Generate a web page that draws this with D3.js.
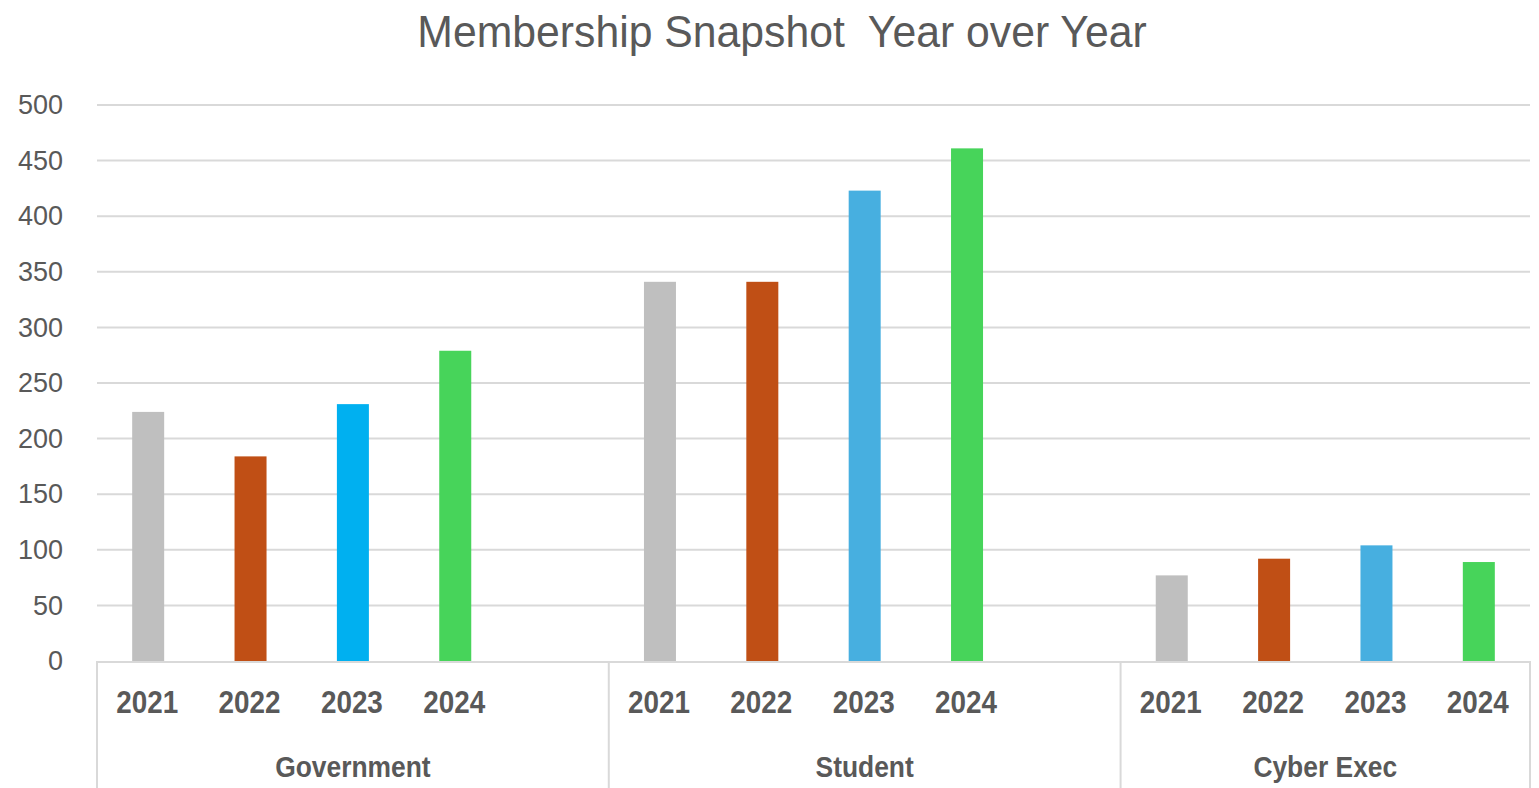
<!DOCTYPE html>
<html>
<head>
<meta charset="utf-8">
<script src="https://cdn.jsdelivr.net/npm/d3@7"></script>
<style>
  html, body { margin: 0; padding: 0; background: #fff; }
  svg { display: block; }
  text { white-space: pre; }
</style>
</head>
<body>
<svg id="chart" width="1539" height="788"></svg>
<script>
// ---- data ----
const title = "Membership Snapshot  Year over Year";
const groups = ["Government", "Student", "Cyber Exec"];
const years = ["2021", "2022", "2023", "2024"];
const government = [224, 184, 231, 279];
const student = [341, 341, 423, 461];
const cyberExec = [77, 92, 104, 89];
const yTicks = [0, 50, 100, 150, 200, 250, 300, 350, 400, 450, 500];
// empty trailing slots per group (as in the source sheet layout)
const trailingGaps = [1, 1, 0];

// ---- styles ----
const yearColors = { "2021": "#BFBFBF", "2022": "#C04F15", "2023": "#47AFE0", "2024": "#47D45A" };
const colorOverrides = { "Government|2023": "#00B0F0" };
const textColor = "#595959";
const gridColor = "#D9D9D9";
const FONT = "'Liberation Sans', Arial, sans-serif";

const seriesByGroup = { "Government": government, "Student": student, "Cyber Exec": cyberExec };

// build slots
const slots = [];
const records = [];
groups.forEach((g, gi) => {
  years.forEach((y, yi) => {
    const key = g + "|" + y;
    slots.push(key);
    records.push({ group: g, year: y, key, value: seriesByGroup[g][yi] });
  });
  for (let i = 0; i < trailingGaps[gi]; i++) slots.push(g + "|gap" + i);
});

const svg = d3.select("#chart");
const margin = { left: 97, right: 1530, top: 105, bottom: 661 };

const x = d3.scaleBand().domain(slots).range([margin.left, margin.right]).paddingInner(0).paddingOuter(0);
const y = d3.scaleLinear().domain([0, 500]).range([margin.bottom, margin.top]);

// helper: place condensed text (horizontal scale around anchor)
function condensed(sel, sx) {
  sel.attr("transform", function () {
    const cx = +this.getAttribute("data-x");
    return `translate(${cx},0) scale(${sx},1) translate(${-cx},0)`;
  });
}

// title
svg.append("text")
  .attr("x", 782).attr("data-x", 782).attr("y", 47)
  .attr("text-anchor", "middle")
  .attr("font-family", FONT)
  .attr("font-size", 45)
  .attr("fill", textColor)
  .attr("xml:space", "preserve")
  .text(title)
  .call(condensed, 0.95);

// gridlines
svg.append("g").selectAll("line").data(yTicks.filter(d => d > 0)).join("line")
  .attr("x1", margin.left).attr("x2", margin.right)
  .attr("y1", d => y(d)).attr("y2", d => y(d))
  .attr("stroke", gridColor).attr("stroke-width", 2);

// y axis
const yAxis = d3.axisLeft(y).tickValues(yTicks).tickSize(0).tickPadding(34);
const yg = svg.append("g").attr("transform", `translate(${margin.left},0)`).call(yAxis);
yg.select(".domain").remove();
yg.selectAll("text")
  .attr("font-family", FONT)
  .attr("font-size", 27)
  .attr("fill", textColor);

// bars
svg.append("g").selectAll("rect").data(records).join("rect")
  .attr("x", d => x(d.key) + x.bandwidth() / 2 - 16)
  .attr("width", 32)
  .attr("y", d => y(d.value))
  .attr("height", d => y(0) - y(d.value))
  .attr("fill", d => colorOverrides[d.key] || yearColors[d.year]);

// category axis box
const axisG = svg.append("g");
axisG.append("line")
  .attr("x1", margin.left - 1).attr("x2", margin.right)
  .attr("y1", y(0) + 1).attr("y2", y(0) + 1)
  .attr("stroke", gridColor).attr("stroke-width", 2);

const groupBounds = groups.map(g => {
  const ks = slots.filter(s => s.startsWith(g + "|"));
  return { group: g, x0: x(ks[0]), x1: x(ks[ks.length - 1]) + x.bandwidth() };
});
const dividers = [groupBounds[0].x0].concat(groupBounds.map(b => b.x1));
axisG.selectAll("line.div").data(dividers).join("line")
  .attr("class", "div")
  .attr("x1", d => d).attr("x2", d => d)
  .attr("y1", y(0)).attr("y2", 788)
  .attr("stroke", gridColor).attr("stroke-width", 2);

// year labels
axisG.selectAll("text.year").data(records).join("text")
  .attr("class", "year")
  .attr("x", d => x(d.key) + x.bandwidth() / 2 - 1)
  .attr("data-x", d => x(d.key) + x.bandwidth() / 2 - 1)
  .attr("y", 713)
  .attr("text-anchor", "middle")
  .attr("font-family", FONT)
  .attr("font-weight", "bold")
  .attr("font-size", 32)
  .attr("fill", textColor)
  .text(d => d.year)
  .call(condensed, 0.87);

// group labels
axisG.selectAll("text.group").data(groupBounds).join("text")
  .attr("class", "group")
  .attr("x", d => (d.x0 + d.x1) / 2)
  .attr("data-x", d => (d.x0 + d.x1) / 2)
  .attr("y", 777)
  .attr("text-anchor", "middle")
  .attr("font-family", FONT)
  .attr("font-weight", "bold")
  .attr("font-size", 30)
  .attr("fill", textColor)
  .text(d => d.group)
  .call(condensed, 0.88);
</script>
</body>
</html>
